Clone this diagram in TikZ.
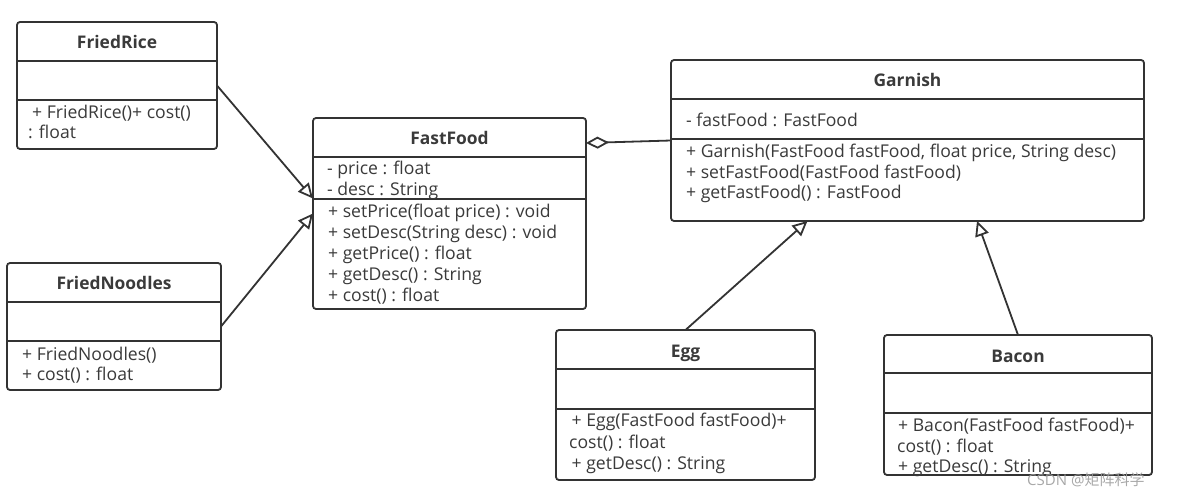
\documentclass[tikz,border=0pt]{standalone}
\usepackage{fontspec}
\setmainfont{Open Sans}
\newfontfamily\cjk{Noto Sans CJK SC}
\usetikzlibrary{arrows.meta}
\definecolor{ln}{HTML}{333333}
\definecolor{tx}{HTML}{3A3A3A}
\tikzset{
  cls/.style={draw=ln, fill=white, line width=1.8pt, rounded corners=3pt, inner sep=0pt, outer sep=0pt, anchor=north west},
  sep/.style={draw=ln, line width=1.8pt},
  ttl/.style={anchor=base, inner sep=0pt, font=\fontsize{17.4}{20}\selectfont\bfseries, text=tx},
  txt/.style={anchor=base west, inner sep=0pt, font=\fontsize{17.6}{20}\selectfont, text=tx},
  inh/.style={draw=ln, line width=1.8pt, -{Triangle[open, length=15pt, width=14pt, fill=white]}},
  agg/.style={draw=ln, line width=1.8pt, {Diamond[open, length=23pt, width=12pt, fill=white]}-}
}
\begin{document}
\begin{tikzpicture}[x=1pt, y=-1pt]
\useasboundingbox (0,0) rectangle (1177,497);
\fill[white] (0,0) rectangle (1177,497);

% FriedRice
\node[cls, minimum width=200pt, minimum height=127pt] (fr) at (17,22) {};
\draw[sep] (fr.west |- 0,61) -- (fr.east |- 0,61);
\draw[sep] (fr.west |- 0,100) -- (fr.east |- 0,100);
\node[ttl] (frt) at (117,48.5) {FriedRice};
\node[txt] (fr1) at (32,119) {+ FriedRice()+ cost()};
\node[txt] (fr2) at (28,138.5) {: float};

% FriedNoodles
\node[cls, minimum width=214pt, minimum height=127pt] (fn) at (7,263) {};
\draw[sep] (fn.west |- 0,302) -- (fn.east |- 0,302);
\draw[sep] (fn.west |- 0,341) -- (fn.east |- 0,341);
\node[ttl] (fnt) at (114,289.5) {FriedNoodles};
\node[txt] (fn1) at (22,360) {+ FriedNoodles()};
\node[txt] (fn2) at (22,380.5) {+ cost() : float};

% FastFood
\node[cls, minimum width=273pt, minimum height=191pt] (ff) at (313,118) {};
\draw[sep] (ff.west |- 0,157) -- (ff.east |- 0,157);
\draw[sep] (ff.west |- 0,199) -- (ff.east |- 0,199);
\node[ttl] (fft) at (449.5,144.5) {FastFood};
\node[txt] (ffa1) at (327,175) {- price : float};
\node[txt] (ffa2) at (327,196) {- desc : String};
\node[txt] (ffm1) at (328,217) {+ setPrice(float price) : void};
\node[txt] (ffm2) at (328,238) {+ setDesc(String desc) : void};
\node[txt] (ffm3) at (328,259) {+ getPrice() : float};
\node[txt] (ffm4) at (328,280) {+ getDesc() : String};
\node[txt] (ffm5) at (328,301) {+ cost() : float};

% Garnish
\node[cls, minimum width=473pt, minimum height=161pt] (ga) at (671,60) {};
\draw[sep] (ga.west |- 0,99) -- (ga.east |- 0,99);
\draw[sep] (ga.west |- 0,139) -- (ga.east |- 0,139);
\node[ttl] (gat) at (907.5,86.5) {Garnish};
\node[txt] (gaa1) at (686,126.5) {- fastFood : FastFood};
\node[txt] (gam1) at (686,157.5) {+ Garnish(FastFood fastFood, float price, String desc)};
\node[txt] (gam2) at (686,178.3) {+ setFastFood(FastFood fastFood)};
\node[txt] (gam3) at (686,198.5) {+ getFastFood() : FastFood};

% Egg
\node[cls, minimum width=259pt, minimum height=150pt] (eg) at (556,330) {};
\draw[sep] (eg.west |- 0,369) -- (eg.east |- 0,369);
\draw[sep] (eg.west |- 0,409) -- (eg.east |- 0,409);
\node[ttl] (egt) at (685.5,357.5) {Egg};
\node[txt] (eg1) at (571.5,426.7) {+ Egg(FastFood fastFood)+};
\node[txt] (eg2) at (569,448.3) {cost() : float};
\node[txt] (eg3) at (571.5,469.3) {+ getDesc() : String};

% Bacon
\node[cls, minimum width=268pt, minimum height=140pt] (bc) at (884,335) {};
\draw[sep] (bc.west |- 0,373) -- (bc.east |- 0,373);
\draw[sep] (bc.west |- 0,413) -- (bc.east |- 0,413);
\node[ttl] (bct) at (1018,362) {Bacon};
\node[txt] (bc1) at (898,431.7) {+ Bacon(FastFood fastFood)+};
\node[txt] (bc2) at (897,452.3) {cost() : float};
\node[txt] (bc3) at (898,472) {+ getDesc() : String};

% connectors
\draw[inh] (fr.east) -- ([yshift=15pt]ff.west);
\draw[inh] (fn.east) -- (ff.west);
\draw[agg] ([yshift=70.5pt]ff.east) -- (ga.west);
\draw[inh] (eg.north) -- ([xshift=-100pt]ga.south);
\draw[inh] (bc.north) -- ([xshift=69.5pt]ga.south);

% watermark
\node[anchor=base west, inner sep=0pt, text=gray!75, opacity=0.9, font=\fontsize{15}{18}\selectfont] (wm) at (1027,485) {CSDN @{\cjk 矩阵科学}};
\end{tikzpicture}
\end{document}
